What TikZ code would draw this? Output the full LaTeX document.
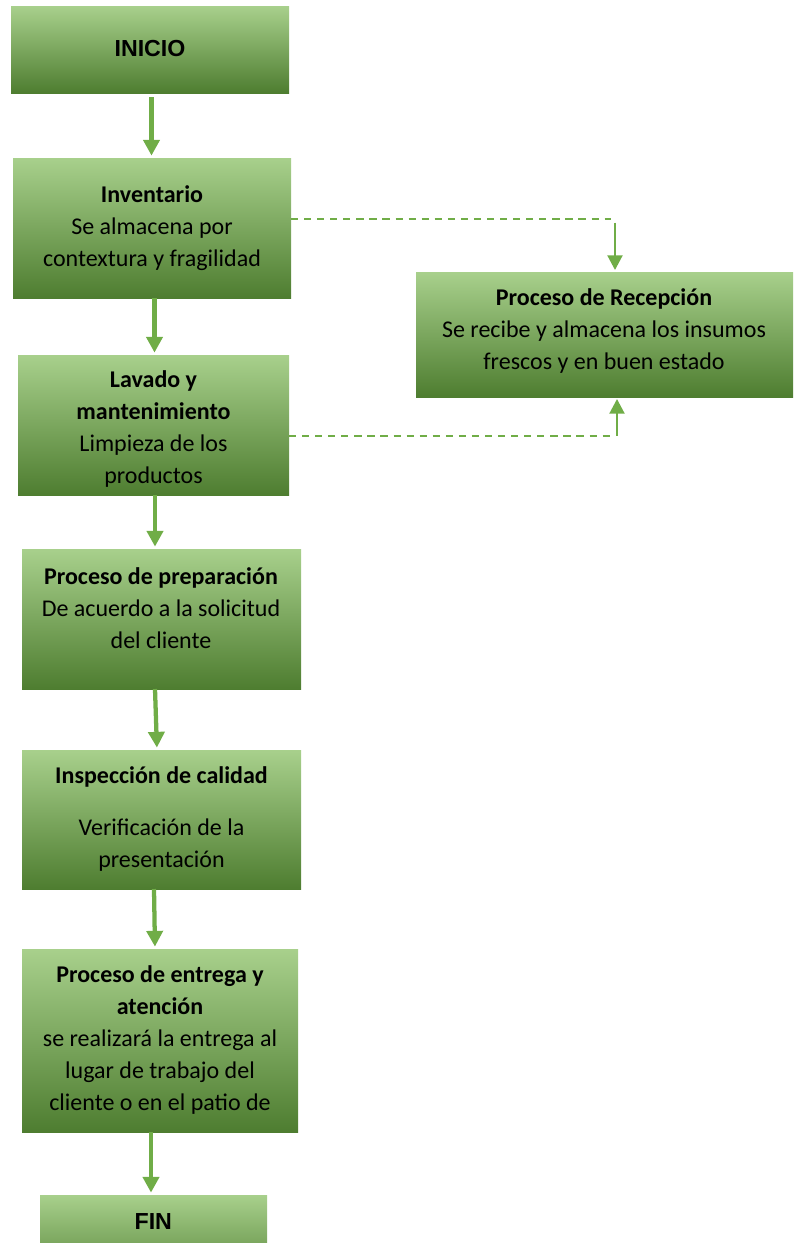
\documentclass[tikz,border=0pt]{standalone}
\usepackage{fontspec}
\setmainfont{Carlito}
\newfontfamily\arialfont{Liberation Sans}
\usetikzlibrary{calc,fit,arrows.meta}
\definecolor{gTop}{RGB}{168,208,140}
\definecolor{gMid}{RGB}{112,173,71}
\definecolor{gBot}{RGB}{78,125,48}
\definecolor{lineGreen}{RGB}{112,173,71}
\begin{document}
\begin{tikzpicture}[x=0.75pt,y=-0.75pt,
  stagebox/.style={inner sep=0pt, outer sep=0pt, draw=none,
    top color=gTop, middle color=gMid, bottom color=gBot},
  txt/.style={align=center, inner sep=0pt, text=black,
    font=\fontsize{18}{24}\selectfont},
  endtxt/.style={inner sep=0pt, text=black,
    font=\arialfont\bfseries\fontsize{17.4}{20}\selectfont},
  mainarr/.style={draw=lineGreen, line width=3.2pt,
    -{Triangle[width=12pt,length=11.8pt]}, shorten >=1.8pt},
  sidearr/.style={draw=lineGreen, line width=1.7pt,
    -{Triangle[width=11.2pt,length=11pt]}},
  dashlink/.style={draw=lineGreen, line width=1.5pt,
    dash pattern=on 5.4pt off 4.4pt}]
\clip (0,0) rectangle (793,1243);

% process boxes
\node[stagebox, fit={(11,6) (289,93)}] (ini) {};
\node[stagebox, fit={(13,158) (291,298)}] (inv) {};
\node[stagebox, fit={(416,272) (793,397)}] (rec) {};
\node[stagebox, fit={(18,355) (289,495)}] (lav) {};
\node[stagebox, fit={(22,549) (301,689)}] (prep) {};
\node[stagebox, fit={(22,750) (301,889)}] (insp) {};
\node[stagebox, fit={(22,949) (298,1132)}] (ent) {};
\node[stagebox, fit={(40,1195) (267,1291)}] (fin) {};

% box texts
\node[endtxt] (iniT) at (150,48.5) {INICIO};
\node[txt] (invT) at (152,228.5) {\textbf{Inventario}\\Se almacena por\\contextura y fragilidad};
\node[txt] (recT) at (604,331) {\textbf{Proceso de Recepción}\\Se recibe y almacena los insumos\\frescos y en buen estado};
\node[txt] (lavT) at (153.5,429.5) {\textbf{Lavado y}\\\textbf{mantenimiento}\\Limpieza de los\\productos};
\node[txt] (prepT) at (161,608) {\textbf{Proceso de preparación}\\De acuerdo a la solicitud\\del cliente};
\node[txt] (inspT) at (161.5,819.5) {\textbf{Inspección de calidad}\\[15pt]Verificación de la\\presentación};
\node[txt] (entT) at (160,1040) {\textbf{Proceso de entrega y}\\\textbf{atención}\\se realizará la entrega al\\lugar de trabajo del\\cliente o en el patio de};
\node[endtxt] (finT) at (153.3,1221.7) {FIN};

% main flow
\draw[mainarr, shorten <=3pt] ($(ini.south)+(1.5,0)$) -- ($(inv.north)+(-0.5,0)$);
\draw[mainarr] ($(inv.south)+(2.5,0)$) -- ($(lav.north)+(1,0)$);
\draw[mainarr] ($(lav.south)+(1.5,0)$) -- ($(prep.north)+(-6.5,0)$);
\draw[mainarr] ($(prep.south)+(-6.5,0)$) -- ($(insp.north)+(-4.5,0)$);
\draw[mainarr] ($(insp.south)+(-7.5,0)$) -- ($(ent.north)+(-5,0)$);
\draw[mainarr] ($(ent.south)+(-9,0)$) -- ($(fin.north)+(-2.5,0)$);

% links to the reception process
\coordinate (upTurn) at (615,218.5);
\coordinate (lowTurn) at (617,435.5);
\draw[dashlink] (inv.east |- upTurn) -- ($(upTurn)+(-4,0)$);
\draw[sidearr, shorten >=1.5pt] ($(upTurn)+(0,4)$) -- (rec.north -| upTurn);
\draw[dashlink] (lav.east |- lowTurn) -- ($(lowTurn)+(-4,0)$);
\draw[sidearr, shorten >=1.5pt] (lowTurn) -- (rec.south -| lowTurn);
\end{tikzpicture}
\end{document}
